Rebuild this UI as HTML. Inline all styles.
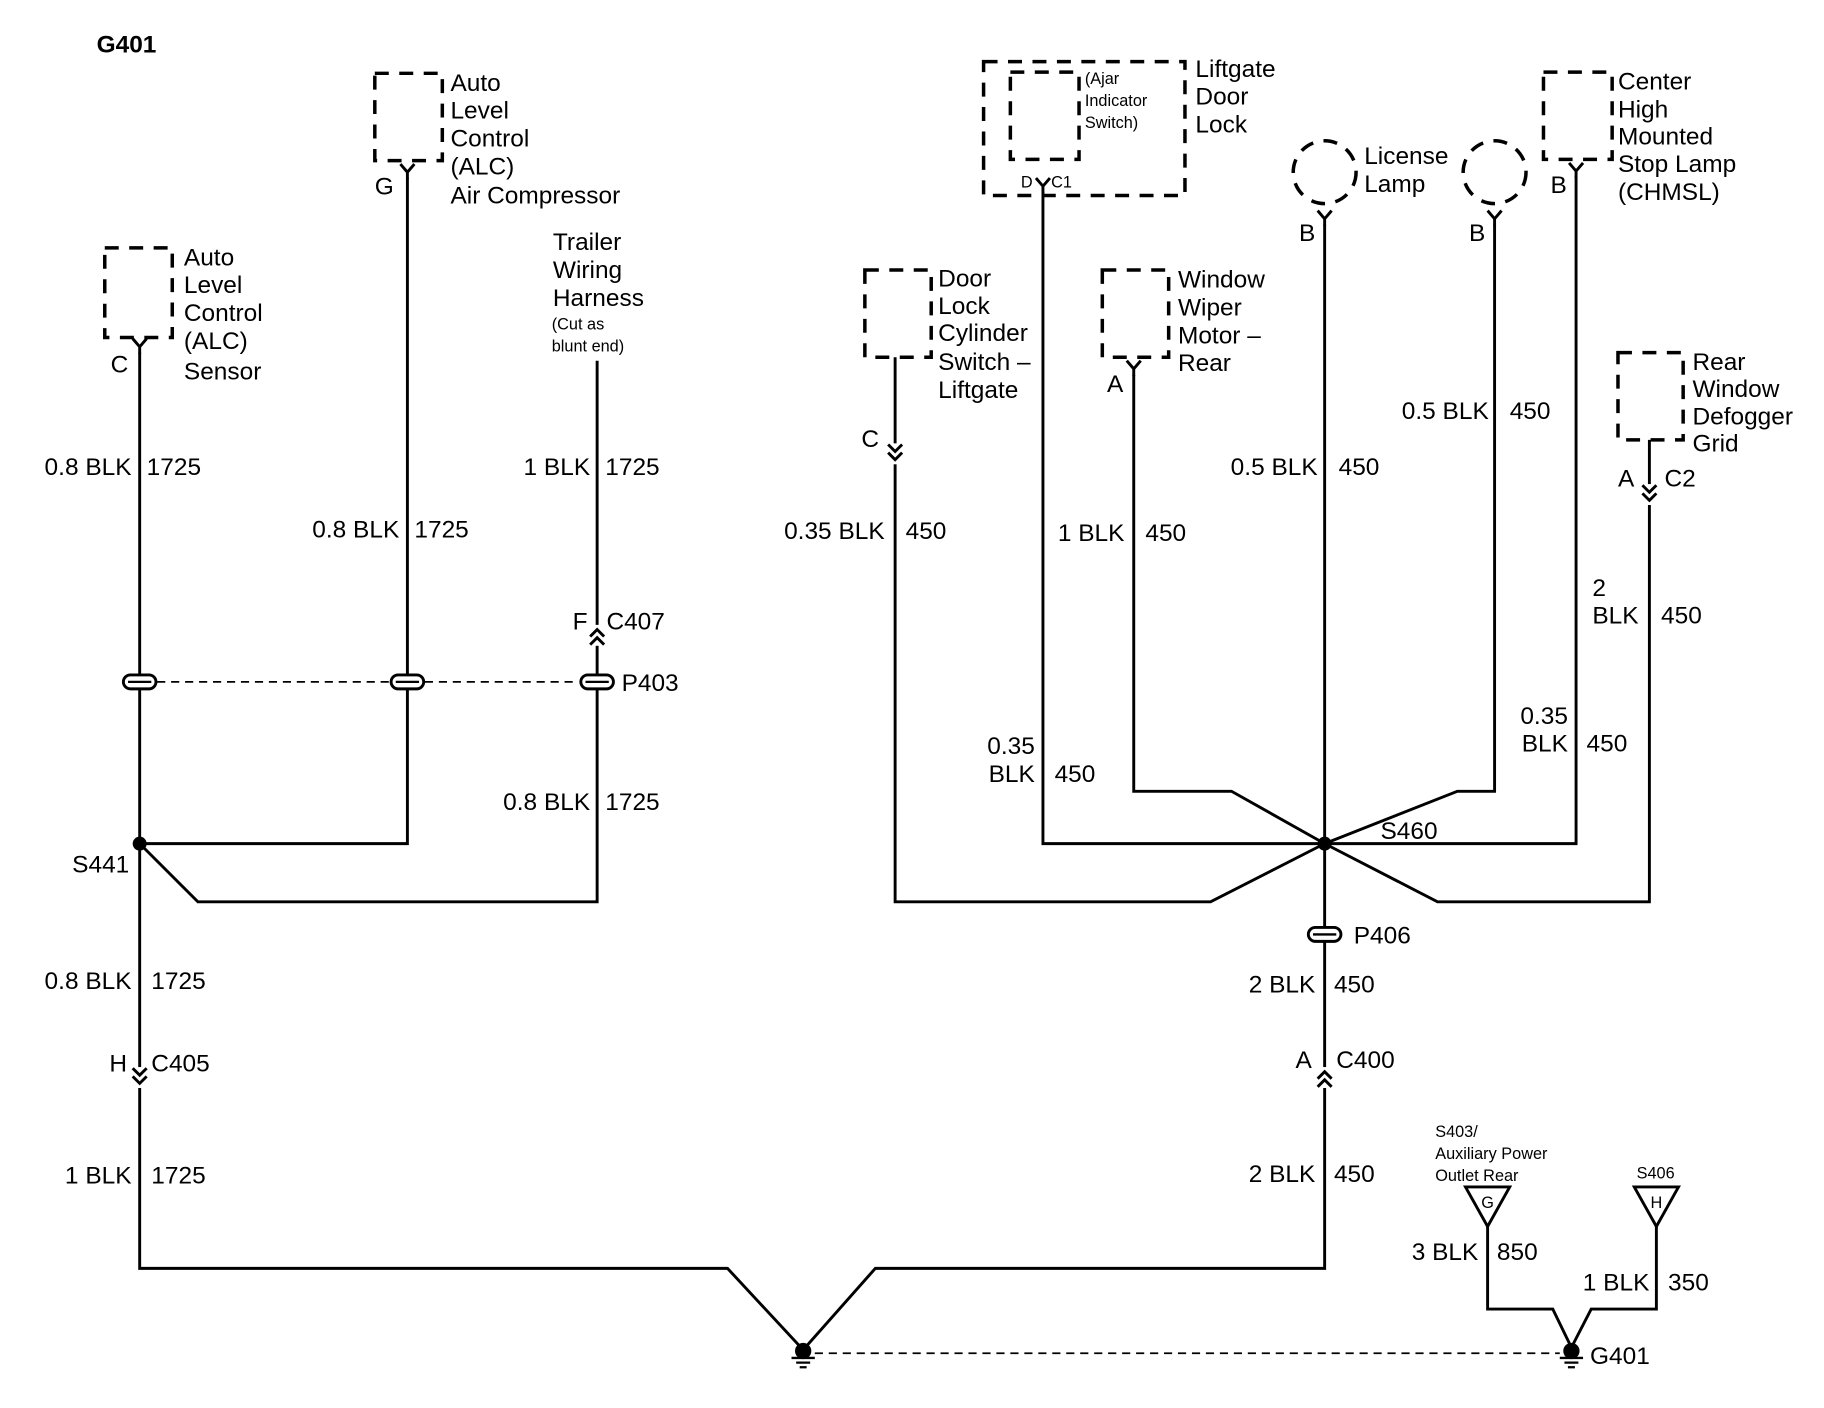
<!DOCTYPE html>
<html><head><meta charset="utf-8"><style>
html,body{margin:0;padding:0;background:#fff;}
svg{display:block;}
text{font-family:"Liberation Sans",sans-serif;font-size:21px;fill:#000;}
.s{font-size:14px;}
.b{font-weight:bold;}
.w{fill:none;stroke:#000;stroke-width:2.5;}
.d{fill:none;stroke:#000;stroke-width:3;stroke-dasharray:12 9;}
.dl{fill:none;stroke:#000;stroke-width:1.5;stroke-dasharray:7 5;}
.r{text-anchor:end;}
</style></head><body>
<svg width="1824" height="1408" viewBox="0 0 1567 1210" preserveAspectRatio="none" xmlns="http://www.w3.org/2000/svg">
<defs>
<g id="Y"><path d="M-6,-9 L0,-2 L6,-9 M0,-2 L0,4" fill="none" stroke="#000" stroke-width="2.5"/></g>
<g id="CD"><path d="M-6,-8 L0,-2 L6,-8 M-6,-1 L0,5 L6,-1" fill="none" stroke="#000" stroke-width="2.5"/></g>
<g id="CU"><path d="M-6,8 L0,2 L6,8 M-6,1 L0,-5 L6,1" fill="none" stroke="#000" stroke-width="2.5"/></g>
<g id="SP"><rect x="-14" y="-6" width="28" height="12" rx="6" fill="#fff" stroke="#000" stroke-width="2.5"/><line x1="-10" y1="0" x2="10" y2="0" stroke="#000" stroke-width="2"/></g>
<g id="GND"><circle cx="0" cy="0" r="7" fill="#000"/><path d="M-10,6 H10 M-6,10 H6 M-3,14 H3" stroke="#000" stroke-width="2"/></g>
</defs>

<text x="83" y="45" class="b">G401</text>

<!-- ALC sensor -->
<rect x="90" y="213" width="58" height="77" class="d"/>
<use href="#Y" x="120" y="300"/>
<text x="95" y="320">C</text>
<text x="158" y="228">Auto</text><text x="158" y="252">Level</text><text x="158" y="276">Control</text><text x="158" y="300">(ALC)</text><text x="158" y="326">Sensor</text>
<path d="M120,303 V1090 H625 L690,1160 L752,1090 H1138 V930" class="w"/>
<text x="113" y="408" class="r">0.8 BLK</text><text x="126" y="408">1725</text>

<!-- ALC compressor -->
<rect x="322" y="63" width="58" height="75" class="d"/>
<use href="#Y" x="350" y="150"/>
<text x="322" y="167">G</text>
<text x="387" y="78">Auto</text><text x="387" y="102">Level</text><text x="387" y="126">Control</text><text x="387" y="150">(ALC)</text><text x="387" y="175">Air Compressor</text>
<path d="M350,153 V725 H120" class="w"/>
<text x="343" y="462" class="r">0.8 BLK</text><text x="356" y="462">1725</text>

<!-- Trailer -->
<text x="475" y="215">Trailer</text><text x="475" y="239">Wiring</text><text x="475" y="263">Harness</text>
<text x="474" y="283" class="s">(Cut as</text><text x="474" y="302" class="s">blunt end)</text>
<path d="M513,310 V775 H170 L120,725" class="w"/>
<text x="507" y="408" class="r">1 BLK</text><text x="520" y="408">1725</text>
<rect x="506" y="537" width="14" height="18" fill="#fff"/>
<use href="#CU" x="513" y="546"/>
<text x="492" y="541">F</text><text x="521" y="541">C407</text>
<text x="507" y="696" class="r">0.8 BLK</text><text x="520" y="696">1725</text>

<!-- P403 -->
<line x1="135" y1="586" x2="335" y2="586" class="dl"/>
<line x1="365" y1="586" x2="497" y2="586" class="dl"/>
<use href="#SP" x="120" y="586"/><use href="#SP" x="350" y="586"/><use href="#SP" x="513" y="586"/>
<text x="534" y="594">P403</text>

<circle cx="120" cy="725" r="6" fill="#000"/>
<text x="62" y="750">S441</text>
<text x="113" y="850" class="r">0.8 BLK</text><text x="130" y="850">1725</text>
<rect x="113" y="917" width="14" height="18" fill="#fff"/>
<use href="#CD" x="120" y="926"/>
<text x="94" y="921">H</text><text x="130" y="921">C405</text>
<text x="113" y="1017" class="r">1 BLK</text><text x="130" y="1017">1725</text>

<!-- ground -->
<line x1="700" y1="1163" x2="1340" y2="1163" class="dl"/>
<use href="#GND" x="690" y="1161"/>
<use href="#GND" x="1350" y="1161"/>
<text x="1366" y="1172">G401</text>

<!-- Liftgate door lock -->
<rect x="845" y="53" width="173" height="115" class="d"/>
<rect x="868" y="62" width="59" height="75" class="d"/>
<text x="932" y="72" class="s">(Ajar</text><text x="932" y="91" class="s">Indicator</text><text x="932" y="110" class="s">Switch)</text>
<text x="1027" y="66">Liftgate</text><text x="1027" y="90">Door</text><text x="1027" y="114">Lock</text>
<use href="#Y" x="896" y="162"/>
<text x="877" y="161" class="s">D</text><text x="903" y="161" class="s">C1</text>
<path d="M896,165 V725 H1354 V151" class="w"/>
<text x="889" y="648" class="r">0.35</text><text x="889" y="672" class="r">BLK</text><text x="906" y="672">450</text>

<!-- license lamp 1 -->
<circle cx="1138" cy="148" r="27" class="d" stroke-dasharray="10 9"/>
<text x="1172" y="141">License</text><text x="1172" y="165">Lamp</text>
<use href="#Y" x="1138" y="190"/>
<text x="1116" y="207">B</text>
<path d="M1138,193 V930" class="w"/>
<text x="1132" y="408" class="r">0.5 BLK</text><text x="1150" y="408">450</text>

<!-- lamp 2 -->
<circle cx="1284" cy="148" r="27" class="d" stroke-dasharray="10 9"/>
<use href="#Y" x="1284" y="190"/>
<text x="1262" y="207">B</text>
<path d="M1284,193 V680 H1252 L1138,725" class="w"/>
<text x="1279" y="360" class="r">0.5 BLK</text><text x="1297" y="360">450</text>

<!-- CHMSL -->
<rect x="1326" y="62" width="59" height="75" class="d"/>
<use href="#Y" x="1354" y="149"/>
<text x="1332" y="166">B</text>
<text x="1390" y="77">Center</text><text x="1390" y="101">High</text><text x="1390" y="124">Mounted</text><text x="1390" y="148">Stop Lamp</text><text x="1390" y="172">(CHMSL)</text>
<text x="1347" y="622" class="r">0.35</text><text x="1347" y="646" class="r">BLK</text><text x="1363" y="646">450</text>

<!-- door lock cylinder -->
<rect x="743" y="232" width="57" height="75" class="d"/>
<text x="806" y="246">Door</text><text x="806" y="270">Lock</text><text x="806" y="293">Cylinder</text><text x="806" y="318">Switch –</text><text x="806" y="342">Liftgate</text>
<path d="M769,307 V775 H1040 L1138,725" class="w"/>
<rect x="762" y="381" width="14" height="18" fill="#fff"/>
<use href="#CD" x="769" y="390"/>
<text x="740" y="384">C</text>
<text x="760" y="463" class="r">0.35 BLK</text><text x="778" y="463">450</text>

<!-- wiper -->
<rect x="947" y="232" width="57" height="75" class="d"/>
<text x="1012" y="247">Window</text><text x="1012" y="271">Wiper</text><text x="1012" y="295">Motor –</text><text x="1012" y="319">Rear</text>
<use href="#Y" x="974" y="319"/>
<text x="951" y="337">A</text>
<path d="M974,322 V680 H1058 L1138,725" class="w"/>
<text x="966" y="465" class="r">1 BLK</text><text x="984" y="465">450</text>

<!-- defogger -->
<rect x="1390" y="303" width="56" height="75" class="d"/>
<text x="1454" y="318">Rear</text><text x="1454" y="341">Window</text><text x="1454" y="365">Defogger</text><text x="1454" y="388">Grid</text>
<path d="M1417,378 V775 H1235 L1138,725" class="w"/>
<rect x="1410" y="416" width="14" height="18" fill="#fff"/>
<use href="#CD" x="1417" y="425"/>
<text x="1390" y="418">A</text><text x="1430" y="418">C2</text>
<text x="1368" y="512">2</text><text x="1368" y="536">BLK</text><text x="1427" y="536">450</text>

<circle cx="1138" cy="725" r="6" fill="#000"/>
<text x="1186" y="721">S460</text>
<use href="#SP" x="1138" y="803"/>
<text x="1163" y="811">P406</text>
<text x="1130" y="853" class="r">2 BLK</text><text x="1146" y="853">450</text>
<rect x="1131" y="917" width="14" height="18" fill="#fff"/>
<use href="#CU" x="1138" y="926"/>
<text x="1113" y="918">A</text><text x="1148" y="918">C400</text>
<text x="1130" y="1016" class="r">2 BLK</text><text x="1146" y="1016">450</text>

<!-- S403 / S406 -->
<text x="1233" y="977" class="s">S403/</text><text x="1233" y="996" class="s">Auxiliary Power</text><text x="1233" y="1015" class="s">Outlet Rear</text>
<path d="M1259,1020 H1297 L1278,1054 Z" fill="#fff" stroke="#000" stroke-width="2.5"/>
<text x="1278" y="1038" class="s" text-anchor="middle">G</text>
<text x="1406" y="1013" class="s">S406</text>
<path d="M1404,1020 H1442 L1423,1054 Z" fill="#fff" stroke="#000" stroke-width="2.5"/>
<text x="1423" y="1038" class="s" text-anchor="middle">H</text>
<path d="M1278,1054 V1125 H1334 L1350,1158 L1367,1125 H1423 V1054" class="w"/>
<text x="1270" y="1083" class="r">3 BLK</text><text x="1286" y="1083">850</text>
<text x="1417" y="1109" class="r">1 BLK</text><text x="1433" y="1109">350</text>
</svg>
</body></html>
